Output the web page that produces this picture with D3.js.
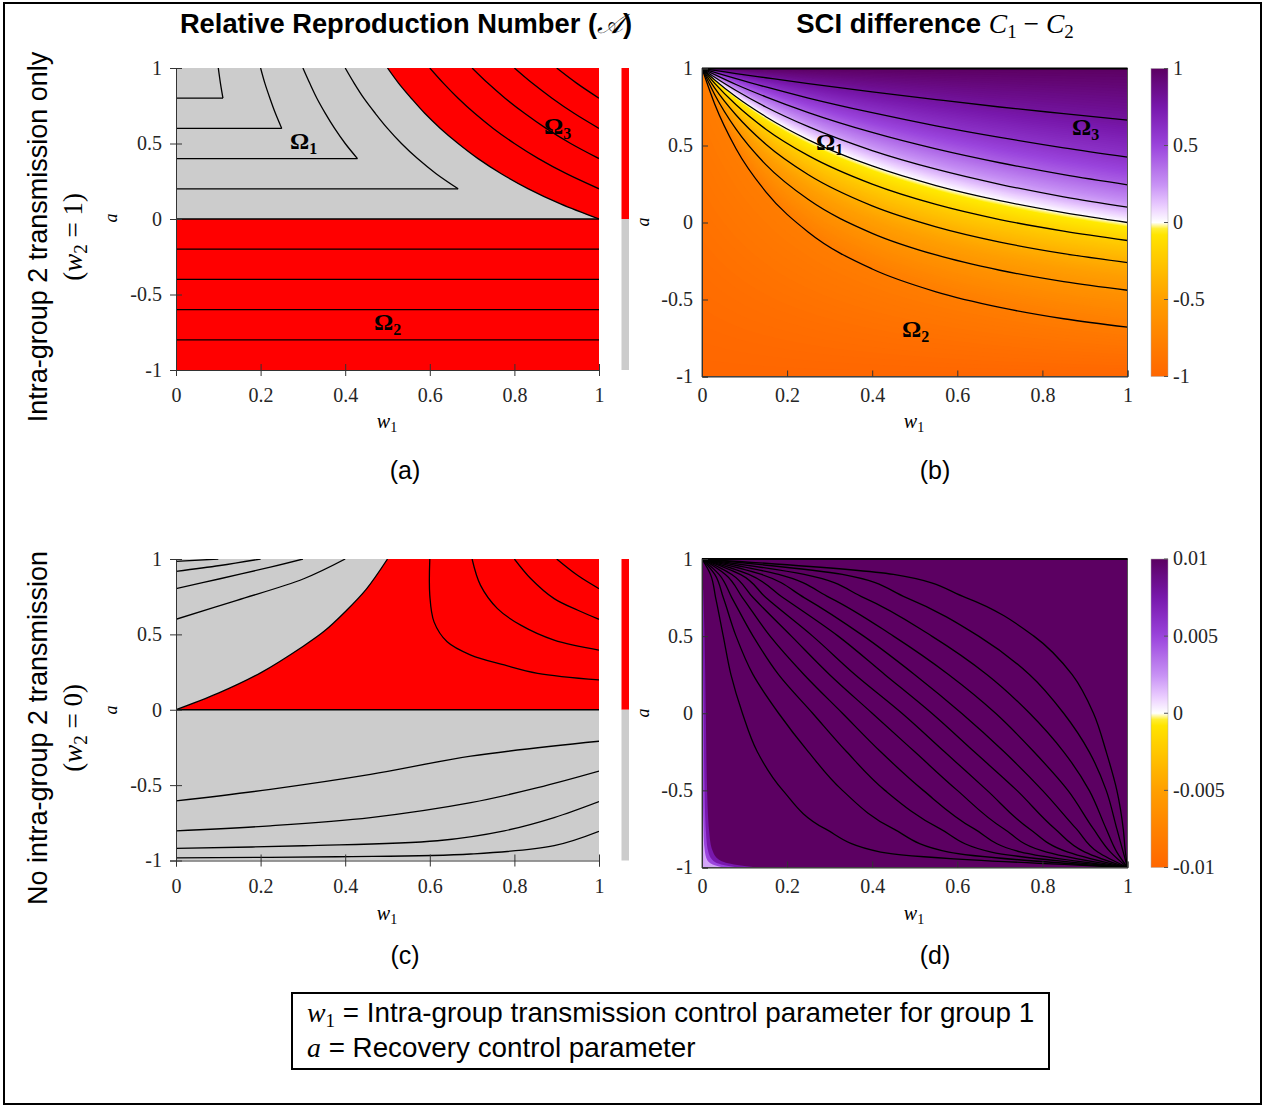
<!DOCTYPE html>
<html>
<head>
<meta charset="utf-8">
<script src="https://cdn.jsdelivr.net/npm/d3@7"></script>
<style>
  body { margin: 0; background: #fff; }
  .tick text { font-family: "Liberation Serif", serif; font-size: 20px; fill: #262626; }
  .sans { font-family: "Liberation Sans", Arial, sans-serif; }
  .serif { font-family: "Liberation Serif", serif; }
</style>
</head>
<body>
<svg id="fig" width="1265" height="1106"></svg>
<script>
// ---------- values ----------
const xTicks = [0, 0.2, 0.4, 0.6, 0.8, 1];
const yTicks = [-1, -0.5, 0, 0.5, 1];
const bBarTicks = [-1, -0.5, 0, 0.5, 1];
const dBarTicks = [-0.01, -0.005, 0, 0.005, 0.01];

// colour map of (b) and (d), stops as fraction of the full scale
const cmapStops  = [-1, -0.5, -0.2, -0.05, 0, 0.1, 0.25, 0.5, 0.75, 1];
const cmapColors = ["#ff6600", "#ff9f00", "#ffcf00", "#ffea00", "#ffffff", "#ecd0ff", "#c690f4", "#9a44dc", "#7818ac", "#5c0062"];

// panel (a): contours [w1, a]
const aOmega2Lines = [-0.2, -0.4, -0.6, -0.8];
const aOmega1Corners = [[0.111, 0.8], [0.25, 0.6], [0.429, 0.4], [0.667, 0.2]];
const aOmega1Arms = [
  [[0.111, 0.8], [0.105, 0.9], [0.1, 1]],
  [[0.25, 0.6], [0.235, 0.7], [0.222, 0.8], [0.21, 0.9], [0.2, 1]],
  [[0.429, 0.4], [0.4, 0.5], [0.375, 0.6], [0.353, 0.7], [0.333, 0.8], [0.316, 0.9], [0.3, 1]],
  [[0.667, 0.2], [0.615, 0.3], [0.571, 0.4], [0.533, 0.5], [0.5, 0.6], [0.471, 0.7], [0.444, 0.8], [0.421, 0.9], [0.4, 1]]
];
const aBoundary = [[0.5, 1], [0.526, 0.9], [0.556, 0.8], [0.588, 0.7], [0.625, 0.6], [0.667, 0.5], [0.714, 0.4], [0.769, 0.3], [0.833, 0.2], [0.909, 0.1], [1, 0]];
const aOmega3Lines = [
  [[0.6, 1], [0.632, 0.9], [0.667, 0.8], [0.706, 0.7], [0.75, 0.6], [0.8, 0.5], [0.857, 0.4], [0.923, 0.3], [1, 0.2]],
  [[0.7, 1], [0.737, 0.9], [0.778, 0.8], [0.824, 0.7], [0.875, 0.6], [0.933, 0.5], [1, 0.4]],
  [[0.8, 1], [0.842, 0.9], [0.889, 0.8], [0.941, 0.7], [1, 0.6]],
  [[0.9, 1], [0.947, 0.9], [1, 0.8]]
];

// panel (b): a of each contour level at the sampled w1
const bW1 = [0, 0.03, 0.08, 0.15, 0.25, 0.4, 0.55, 0.7, 0.85, 1];
const bLevels = [-0.8, -0.6, -0.4, -0.2, 0, 0.2, 0.4, 0.6, 0.8];
const bA = [
  [1, 0.768, 0.479, 0.199, -0.063, -0.302, -0.45, -0.551, -0.625, -0.68],
  [1, 0.830, 0.606, 0.376, 0.149, -0.070, -0.211, -0.310, -0.384, -0.44],
  [1, 0.873, 0.698, 0.508, 0.310, 0.108, -0.028, -0.127, -0.202, -0.26],
  [1, 0.903, 0.764, 0.606, 0.434, 0.249, 0.117, 0.019, -0.056, -0.117],
  [1, 0.926, 0.816, 0.687, 0.537, 0.367, 0.240, 0.142, 0.064, 0],
  [1, 0.943, 0.857, 0.750, 0.622, 0.467, 0.346, 0.248, 0.167, 0.10],
  [1, 0.960, 0.896, 0.816, 0.714, 0.585, 0.478, 0.388, 0.311, 0.245],
  [1, 0.975, 0.934, 0.880, 0.808, 0.713, 0.628, 0.553, 0.485, 0.425],
  [1, 0.988, 0.967, 0.940, 0.902, 0.848, 0.798, 0.750, 0.707, 0.665]
];

// panel (c): contours [w1, a]
const cBoundary = [[0, 0], [0.1, 0.11], [0.2, 0.245], [0.3, 0.42], [0.35, 0.52], [0.4, 0.65], [0.45, 0.8], [0.5, 1]];
const cUpperLeft = [
  [[0, 0.6], [0.144, 0.726], [0.302, 0.869], [0.40, 1]],
  [[0, 0.803], [0.104, 0.869], [0.223, 0.946], [0.30, 1]],
  [[0, 0.918], [0.104, 0.957], [0.2, 1]],
  [[0, 0.984], [0.1, 1]]
];
const cUpperRight = [
  [[0.6, 1], [0.6, 0.759], [0.61, 0.583], [0.641, 0.451], [0.697, 0.363], [0.776, 0.297], [0.855, 0.242], [1, 0.198]],
  [[0.7, 1], [0.72, 0.825], [0.76, 0.671], [0.815, 0.561], [0.894, 0.462], [1, 0.396]],
  [[0.8, 1], [0.839, 0.869], [0.894, 0.737], [0.95, 0.66], [1, 0.6]],
  [[0.9, 1], [0.95, 0.89], [1, 0.803]]
];
const cLower = [
  [[0, -0.605], [0.223, -0.528], [0.46, -0.429], [0.697, -0.308], [1, -0.209]],
  [[0, -0.803], [0.223, -0.77], [0.46, -0.715], [0.697, -0.616], [0.855, -0.517], [1, -0.407]],
  [[0, -0.92], [0.302, -0.902], [0.618, -0.869], [0.776, -0.803], [0.894, -0.715], [1, -0.609]],
  [[0, -0.983], [0.38, -0.975], [0.697, -0.957], [0.894, -0.902], [1, -0.807]]
];

// panel (d): w1 of each contour at the sampled a
const dA = [0.9, 0.75, 0.5, 0.25, 0, -0.25, -0.5, -0.75, -0.9];
const dW1 = [
  [0.02, 0.032, 0.05, 0.068, 0.095, 0.13, 0.19, 0.29, 0.42],
  [0.03, 0.05, 0.08, 0.12, 0.18, 0.25, 0.33, 0.45, 0.58],
  [0.04, 0.07, 0.12, 0.18, 0.26, 0.34, 0.43, 0.56, 0.68],
  [0.055, 0.095, 0.16, 0.24, 0.33, 0.42, 0.52, 0.64, 0.75],
  [0.07, 0.12, 0.21, 0.30, 0.40, 0.50, 0.60, 0.71, 0.81],
  [0.09, 0.15, 0.26, 0.36, 0.47, 0.57, 0.67, 0.77, 0.86],
  [0.11, 0.19, 0.32, 0.43, 0.54, 0.64, 0.74, 0.83, 0.90],
  [0.14, 0.24, 0.38, 0.50, 0.61, 0.71, 0.80, 0.88, 0.93],
  [0.18, 0.30, 0.45, 0.58, 0.69, 0.78, 0.86, 0.92, 0.96],
  [0.24, 0.38, 0.54, 0.67, 0.77, 0.85, 0.91, 0.95, 0.975],
  [0.33, 0.48, 0.65, 0.77, 0.85, 0.91, 0.95, 0.975, 0.99],
  [0.45, 0.62, 0.78, 0.87, 0.92, 0.95, 0.975, 0.99, 0.995]
];
// pale strip along the left edge of (d)
const dStripA = [0.8, 0.5, 0, -0.5, -0.8, -0.9, -0.95, -0.98, -1];
const dStripLevels = [0.0075, 0.005, 0.002];
const dStripW1 = [
  [0.003, 0.006, 0.009, 0.012, 0.018, 0.026, 0.04, 0.075, 0.13],
  [0.001, 0.002, 0.004, 0.006, 0.01, 0.015, 0.024, 0.045, 0.085],
  [0, 0, 0.001, 0.002, 0.004, 0.007, 0.012, 0.025, 0.05]
];

// ---------- layout ----------
const svg = d3.select("#fig");
const panels = {
  a: {left: 176, right: 599, top: 68, bottom: 370},
  b: {left: 702, right: 1127.5, top: 68.5, bottom: 376.5},
  c: {left: 176, right: 599, top: 559, bottom: 860.5},
  d: {left: 702, right: 1127.5, top: 559, bottom: 867.5}
};
function scales(p) {
  return {
    x: d3.scaleLinear().domain([0, 1]).range([p.left, p.right]),
    y: d3.scaleLinear().domain([-1, 1]).range([p.bottom, p.top])
  };
}
const cmap = d3.scaleLinear().domain(cmapStops).range(cmapColors).clamp(true);

svg.append("rect").attr("x", 4).attr("y", 3).attr("width", 1257).attr("height", 1101)
  .attr("fill", "#fff").attr("stroke", "#000").attr("stroke-width", 2);

const defs = svg.append("defs");
function clipFor(id, p) {
  defs.append("clipPath").attr("id", id).append("rect")
    .attr("x", p.left).attr("y", p.top).attr("width", p.right - p.left).attr("height", p.bottom - p.top);
  return svg.append("g").attr("clip-path", `url(#${id})`);
}
const ptLine = s => d3.line().x(d => s.x(d[0])).y(d => s.y(d[1])).curve(d3.curveCatmullRom.alpha(0.5));

function contour(g, d) {
  g.append("path").attr("d", d).attr("fill", "none").attr("stroke", "#000").attr("stroke-width", 1.3);
}

function axes(p, s, crossing, padX, padY) {
  const gx = svg.append("g").attr("transform", `translate(0,${p.bottom})`)
    .call(d3.axisBottom(s.x).tickValues(xTicks).tickFormat(d => String(d)).tickSizeOuter(0).tickSize(crossing ? 6 : -6).tickPadding(padX));
  const gy = svg.append("g").attr("transform", `translate(${p.left},0)`)
    .call(d3.axisLeft(s.y).tickValues(yTicks).tickFormat(d => String(d)).tickSizeOuter(0).tickSize(crossing ? 6 : -6).tickPadding(padY));
  [gx, gy].forEach(g => {
    g.select(".domain").attr("stroke", "#333");
    g.selectAll(".tick line").attr("stroke", "#333");
  });
  if (crossing) {
    gx.selectAll(".tick line").attr("y1", -6).attr("y2", 6);
    gy.selectAll(".tick line").attr("x1", -6).attr("x2", 6);
  }
}

// ---------- panel (a) ----------
{
  const p = panels.a, s = scales(p), g = clipFor("clipA", p);
  g.append("rect").attr("x", s.x(0)).attr("y", s.y(1)).attr("width", s.x(1) - s.x(0)).attr("height", s.y(0) - s.y(1)).attr("fill", "#cccccc");
  g.append("rect").attr("x", s.x(0)).attr("y", s.y(0)).attr("width", s.x(1) - s.x(0)).attr("height", s.y(-1) - s.y(0)).attr("fill", "#ff0000");
  g.append("path").attr("d", ptLine(s)(aBoundary) + `L${s.x(1)},${s.y(1)}Z`).attr("fill", "#ff0000");
  aOmega2Lines.forEach(v => contour(g, `M${s.x(0)},${s.y(v)}H${s.x(1)}`));
  contour(g, `M${s.x(0)},${s.y(0)}H${s.x(1)}`);
  aOmega1Corners.forEach((c, i) => {
    contour(g, `M${s.x(0)},${s.y(c[1])}H${s.x(c[0])}`);
    contour(g, ptLine(s)(aOmega1Arms[i]));
  });
  contour(g, ptLine(s)(aBoundary));
  aOmega3Lines.forEach(l => contour(g, ptLine(s)(l)));
  axes(p, s, true, 12, 8);
}

// ---------- panel (c) ----------
{
  const p = panels.c, s = scales(p), g = clipFor("clipC", p);
  g.append("rect").attr("x", s.x(0)).attr("y", s.y(1)).attr("width", s.x(1) - s.x(0)).attr("height", s.y(-1) - s.y(1)).attr("fill", "#cccccc");
  g.append("path").attr("d", ptLine(s)(cBoundary) + `L${s.x(1)},${s.y(1)}L${s.x(1)},${s.y(0)}Z`).attr("fill", "#ff0000");
  contour(g, `M${s.x(0)},${s.y(0)}H${s.x(1)}`);
  contour(g, ptLine(s)(cBoundary));
  cUpperLeft.concat(cUpperRight, cLower).forEach(l => contour(g, ptLine(s)(l)));
  axes(p, s, true, 12, 8);
}

// ---------- panel (b) ----------
{
  const p = panels.b, s = scales(p), g = clipFor("clipB", p);
  const curves = [{L: 1, a: bW1.map(() => 1)}]
    .concat(bLevels.map((L, i) => ({L, a: bA[i]})).reverse())
    .concat([{L: -1, a: bW1.map(() => -1)}]);
  const area = d3.area().curve(d3.curveMonotoneX)
    .x((d, i) => s.x(bW1[i])).y0(s.y(-1)).y1(d => s.y(d));
  const N = 18;
  for (let i = 0; i < curves.length - 1; i++) {
    const U = curves[i], D = curves[i + 1];
    for (let j = 0; j < N; j++) {
      const t = j / N;
      const arr = U.a.map((u, k) => u + t * (D.a[k] - u));
      const v = U.L + (j + 0.5) / N * (D.L - U.L);
      g.append("path").attr("d", area(arr)).attr("fill", cmap(v));
    }
  }
  const line = d3.line().curve(d3.curveMonotoneX).x((d, i) => s.x(bW1[i])).y(d => s.y(d));
  bA.forEach(row => contour(g, line(row)));
  svg.append("rect").attr("x", p.left).attr("y", p.top).attr("width", p.right - p.left).attr("height", p.bottom - p.top)
    .attr("fill", "none").attr("stroke", "#555").attr("stroke-width", 1);
  svg.append("line").attr("x1", p.left).attr("x2", p.right).attr("y1", p.top).attr("y2", p.top).attr("stroke", "#000").attr("stroke-width", 2);
  axes(p, s, false, 11, 9);
}

// ---------- panel (d) ----------
{
  const p = panels.d, s = scales(p), g = clipFor("clipD", p);
  g.append("rect").attr("x", p.left).attr("y", p.top).attr("width", p.right - p.left).attr("height", p.bottom - p.top).attr("fill", cmap(1));
  const strip = d3.area().curve(d3.curveMonotoneY)
    .y((d, i) => s.y(dStripA[i])).x0(s.x(0)).x1(d => s.x(d));
  dStripW1.forEach((row, i) => g.append("path").attr("d", strip(row)).attr("fill", cmap(dStripLevels[i] / 0.01)));
  const line = d3.line().curve(d3.curveMonotoneY).x(d => s.x(d[0])).y(d => s.y(d[1]));
  dW1.forEach(row => contour(g, line([[0, 1]].concat(row.map((w, k) => [w, dA[k]]), [[1, -1]]))));
  svg.append("rect").attr("x", p.left).attr("y", p.top).attr("width", p.right - p.left).attr("height", p.bottom - p.top)
    .attr("fill", "none").attr("stroke", "#555").attr("stroke-width", 1);
  svg.append("line").attr("x1", p.left).attr("x2", p.right).attr("y1", p.top).attr("y2", p.top).attr("stroke", "#000").attr("stroke-width", 2);
  axes(p, s, false, 11, 9);
}

// ---------- colour bars ----------
function twoToneBar(p) {
  const y = d3.scaleLinear().domain([-1, 1]).range([p.bottom, p.top]);
  svg.append("rect").attr("x", 621.5).attr("y", y(1)).attr("width", 7.5).attr("height", y(0) - y(1)).attr("fill", "#ff0000");
  svg.append("rect").attr("x", 621.5).attr("y", y(0)).attr("width", 7.5).attr("height", y(-1) - y(0)).attr("fill", "#cccccc");
}
twoToneBar(panels.a);
twoToneBar(panels.c);

function gradientBar(id, p, ticks, maxVal) {
  const grad = defs.append("linearGradient").attr("id", id).attr("x1", 0).attr("y1", 1).attr("x2", 0).attr("y2", 0);
  d3.range(0, 1.0001, 0.02).forEach(t => grad.append("stop").attr("offset", t).attr("stop-color", cmap(-1 + 2 * t)));
  const y = d3.scaleLinear().domain([-maxVal, maxVal]).range([p.bottom, p.top]);
  svg.append("rect").attr("x", 1151).attr("y", p.top).attr("width", 17).attr("height", p.bottom - p.top)
    .attr("fill", `url(#${id})`).attr("stroke", "#aaa").attr("stroke-width", 0.5);
  ticks.forEach(v => {
    svg.append("line").attr("x1", 1164).attr("x2", 1168).attr("y1", y(v)).attr("y2", y(v)).attr("stroke", "#555");
    svg.append("text").attr("class", "serif").attr("x", 1173).attr("y", y(v)).attr("dy", "0.32em")
      .attr("font-size", 20).attr("fill", "#262626").text(String(v));
  });
}
gradientBar("gradB", panels.b, bBarTicks, 1);
gradientBar("gradD", panels.d, dBarTicks, 0.01);

// ---------- text ----------
function mathLabel(x, y, base, sub, size, anchor, rotate) {
  const t = svg.append("text").attr("class", "serif").attr("font-size", size).attr("text-anchor", anchor || "middle")
    .attr("transform", `translate(${x},${y})` + (rotate ? " rotate(-90)" : ""));
  t.append("tspan").attr("font-style", "italic").text(base);
  if (sub) t.append("tspan").attr("font-size", size * 0.7).attr("dy", size * 0.22).text(sub);
  return t;
}
[[387, 428], [914, 428], [387, 920], [914, 920]].forEach(([x, y]) => mathLabel(x, y, "w", "1", 20));
[[117, 218], [649, 222], [117, 710], [649, 713]].forEach(([x, y]) => mathLabel(x, y, "a", null, 18, "middle", true));

function omega(x, y, sub) {
  const t = svg.append("text").attr("class", "serif").attr("x", x).attr("y", y).attr("font-size", 24).attr("font-weight", "bold");
  t.append("tspan").text("Ω");
  t.append("tspan").attr("font-size", 16).attr("dy", 5).text(sub);
}
omega(290, 149, "1"); omega(544, 134, "3"); omega(374, 330, "2");
omega(816, 150, "1"); omega(1072, 135, "3"); omega(902, 337, "2");

const t1 = svg.append("text").attr("class", "sans").attr("x", 406).attr("y", 33).attr("text-anchor", "middle")
  .attr("font-size", 27.3).attr("font-weight", "bold");
t1.append("tspan").text("Relative Reproduction Number (");
t1.append("tspan").attr("font-weight", "normal").attr("font-family", "DejaVu Serif").attr("font-style", "italic").text("𝒜");
t1.append("tspan").text(")");

const t2 = svg.append("text").attr("x", 935).attr("y", 33).attr("text-anchor", "middle").attr("font-size", 27.5);
t2.append("tspan").attr("class", "sans").attr("font-weight", "bold").text("SCI difference ");
t2.append("tspan").attr("class", "serif").attr("font-style", "italic").text("C");
t2.append("tspan").attr("class", "serif").attr("font-size", 19).attr("dy", 5).text("1");
t2.append("tspan").attr("class", "serif").attr("dy", -5).text(" − ");
t2.append("tspan").attr("class", "serif").attr("font-style", "italic").text("C");
t2.append("tspan").attr("class", "serif").attr("font-size", 19).attr("dy", 5).text("2");

function rowLabel(cy, line1, w2) {
  svg.append("text").attr("class", "sans").attr("font-size", 27).attr("text-anchor", "middle")
    .attr("transform", `translate(47,${cy}) rotate(-90)`).text(line1);
  const t = svg.append("text").attr("class", "serif").attr("font-size", 27).attr("text-anchor", "middle")
    .attr("transform", `translate(82,${cy}) rotate(-90)`);
  t.append("tspan").text("(");
  t.append("tspan").attr("font-style", "italic").text("w");
  t.append("tspan").attr("font-size", 19).attr("dy", 5).text("2");
  t.append("tspan").attr("dy", -5).text(` = ${w2})`);
}
rowLabel(237, "Intra-group 2 transmission only", 1);
rowLabel(728, "No intra-group 2 transmission", 0);

[["(a)", 405, 470], ["(b)", 935, 470], ["(c)", 405, 955], ["(d)", 935, 955]].forEach(([s, x, y]) =>
  svg.append("text").attr("class", "sans").attr("x", x).attr("y", y).attr("dy", "0.35em").attr("text-anchor", "middle")
    .attr("font-size", 25).text(s));

// legend box
svg.append("rect").attr("x", 292).attr("y", 993).attr("width", 757).attr("height", 76)
  .attr("fill", "#fff").attr("stroke", "#000").attr("stroke-width", 2);
const l1 = svg.append("text").attr("x", 307).attr("y", 1022).attr("font-size", 27.8);
l1.append("tspan").attr("class", "serif").attr("font-style", "italic").text("w");
l1.append("tspan").attr("class", "serif").attr("font-size", 19).attr("dy", 5).text("1");
l1.append("tspan").attr("class", "sans").attr("dy", -5).text(" = Intra-group transmission control parameter for group 1");
const l2 = svg.append("text").attr("x", 307).attr("y", 1057).attr("font-size", 27.8);
l2.append("tspan").attr("class", "serif").attr("font-style", "italic").text("a");
l2.append("tspan").attr("class", "sans").text(" = Recovery control parameter");
</script>
</body>
</html>
